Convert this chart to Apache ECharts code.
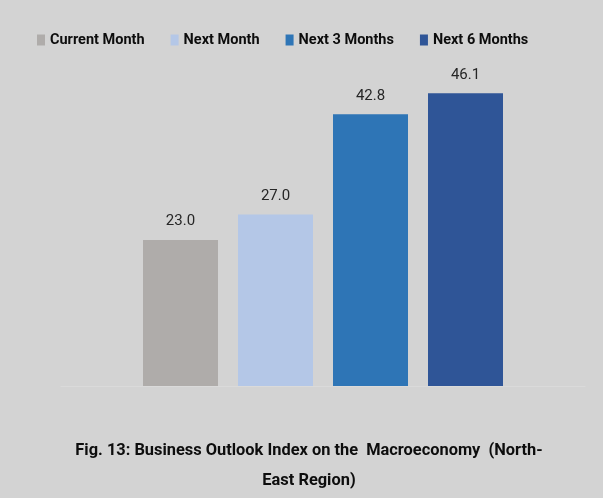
<!DOCTYPE html>
<html>
<head>
<meta charset="utf-8">
<script src="https://cdn.jsdelivr.net/npm/echarts@6/dist/echarts.min.js"></script>
<style>
  html, body { margin: 0; padding: 0; background: #d3d3d3; }
  #chart { width: 603px; height: 498px; }
</style>
</head>
<body>
<div id="chart"></div>
<script>
// 数据
var seriesNames = ['Current Month', 'Next Month', 'Next 3 Months', 'Next 6 Months']
var seriesValues = [23.0, 27.0, 42.8, 46.1]
var barColors = ['#afacaa', '#b4c7e7', '#2e75b6', '#2f5597']
var categories = ['North-East']
var titleText = 'Fig. 13: Business Outlook Index on the  Macroeconomy  (North-\nEast Region)'

var font = "Roboto, 'DejaVu Sans Condensed', sans-serif"

var myChart = echarts.init(document.getElementById('chart'))

var series = []
for (var i = 0; i < seriesNames.length; i++) {
  series.push({
    name: seriesNames[i],
    type: 'bar',
    barWidth: 75,
    barGap: '26.67%',
    data: [seriesValues[i]],
    itemStyle: { color: barColors[i] },
    label: {
      show: true,
      position: 'top',
      distance: 11,
      formatter: function (p) { return p.value.toFixed(1) },
      fontFamily: font,
      fontSize: 15,
      color: '#262626'
    }
  })
}

myChart.setOption({
  backgroundColor: '#d3d3d3',
  animation: false,
  title: {
    text: titleText,
    left: 304,
    top: 431,
    textAlign: 'center',
    textStyle: {
      fontFamily: font,
      fontSize: 16.4,
      fontWeight: 'bold',
      color: '#0d0d0d',
      lineHeight: 30
    }
  },
  legend: {
    data: seriesNames,
    left: 37,
    top: 30,
    padding: 0,
    itemWidth: 8,
    itemHeight: 11,
    itemGap: 26,
    icon: 'rect',
    textStyle: {
      fontFamily: font,
      fontSize: 14.5,
      fontWeight: 'bold',
      color: '#0d0d0d',
      lineHeight: 20
    }
  },
  grid: {
    left: 61,
    right: 18,
    top: 68.6,
    bottom: 112
  },
  xAxis: {
    type: 'category',
    data: categories,
    axisLine: { lineStyle: { color: '#dadada', width: 1 } },
    axisTick: { show: false },
    axisLabel: { show: false }
  },
  yAxis: {
    type: 'value',
    min: 0,
    max: 50,
    show: false,
    splitLine: { show: false }
  },
  series: series
})
</script>
</body>
</html>
